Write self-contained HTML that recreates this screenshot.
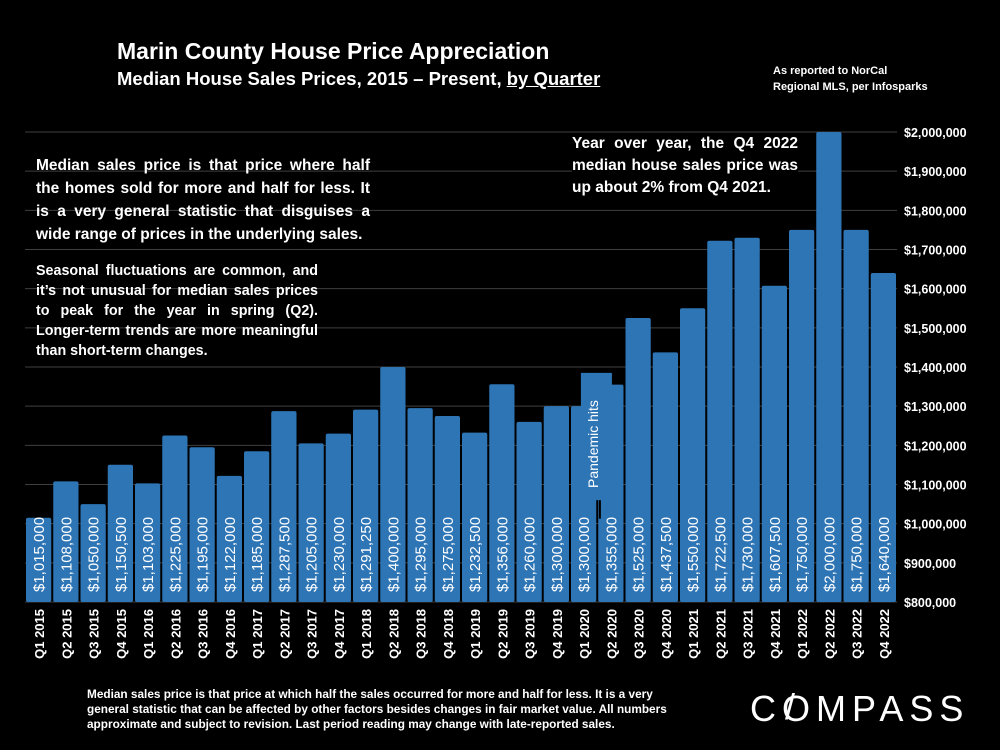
<!DOCTYPE html>
<html><head><meta charset="utf-8"><style>
body{margin:0;background:#000;width:1000px;height:750px;overflow:hidden;font-family:"Liberation Sans",sans-serif;color:#fff}
.t{position:absolute;font-weight:bold;color:#fff}
.j{text-align:justify;text-align-last:left}
</style></head><body>
<div class="t" style="left:117px;top:38px;font-size:23px">Marin County House Price Appreciation</div>
<div class="t" style="left:117px;top:68px;font-size:18.5px">Median House Sales Prices, 2015 – Present, <u>by Quarter</u></div>
<div class="t" style="left:773px;top:63px;font-size:11px;line-height:16px">As reported to NorCal<br>Regional MLS, per Infosparks</div>
<svg id="chart" width="1000" height="750" style="position:absolute;left:0;top:0"></svg>
<div class="t j" style="left:36px;top:154px;width:334px;font-size:15.5px;line-height:23px">Median sales price is that price where half the homes sold for more and half for less. It is a very general statistic that disguises a wide range of prices in the underlying sales.</div>
<div class="t j" style="left:36px;top:261px;width:282px;font-size:14.3px;line-height:20px">Seasonal fluctuations are common, and it’s not unusual for median sales prices to peak for the year in spring (Q2). Longer-term trends are more meaningful than short-term changes.</div>
<div class="t j" style="left:572px;top:133px;width:226px;font-size:15.5px;line-height:22px;background:#000">Year over year, the Q4 2022 median house sales price was up about 2% from Q4 2021.</div>
<div class="t" style="left:87px;top:687px;width:590px;font-size:11.8px;line-height:15px">Median sales price is that price at which half the sales occurred for more and half for less. It is a very general statistic that can be affected by other factors besides changes in fair market value. All numbers approximate and subject to revision. Last period reading may change with late-reported sales.</div>
<div class="t" style="left:750px;top:688px;font-size:36px;font-weight:normal;letter-spacing:6px">C<span style="position:relative">O<span style="position:absolute;left:3px;top:-2px;font-size:36px">/</span></span>MPASS</div>
<script>
const categories=["Q1 2015","Q2 2015","Q3 2015","Q4 2015","Q1 2016","Q2 2016","Q3 2016","Q4 2016","Q1 2017","Q2 2017","Q3 2017","Q4 2017","Q1 2018","Q2 2018","Q3 2018","Q4 2018","Q1 2019","Q2 2019","Q3 2019","Q4 2019","Q1 2020","Q2 2020","Q3 2020","Q4 2020","Q1 2021","Q2 2021","Q3 2021","Q4 2021","Q1 2022","Q2 2022","Q3 2022","Q4 2022"];
const values=[1015000,1108000,1050000,1150500,1103000,1225000,1195000,1122000,1185000,1287500,1205000,1230000,1291250,1400000,1295000,1275000,1232500,1356000,1260000,1300000,1300000,1355000,1525000,1437500,1550000,1722500,1730000,1607500,1750000,2000000,1750000,1640000];
const ticks=[800000,900000,1000000,1100000,1200000,1300000,1400000,1500000,1600000,1700000,1800000,1900000,2000000];
const svg=document.getElementById('chart');const NS='http://www.w3.org/2000/svg';
const y0=602,y1=132,vmin=800000,vmax=2000000,x0=25,x1=897;
const yS=v=>y0-(v-vmin)/(vmax-vmin)*(y0-y1);
const slot=(x1-x0)/categories.length;
const xS=i=>x0+i*slot;
function mk(t,a){const e=document.createElementNS(NS,t);for(const k in a)e.setAttribute(k,a[k]);svg.appendChild(e);return e;}
const fmt=v=>'$'+v.toLocaleString('en-US');
ticks.forEach(t=>{
 const l=mk('line',{x1:x0,x2:x1,y1:yS(t),y2:yS(t),stroke:'#3f3f3f','stroke-width':1});
 
 
 const tx=mk('text',{x:904,y:yS(t)+5,fill:'#fff','font-size':12.5,'font-weight':'bold','font-family':'Liberation Sans'});
 tx.textContent=fmt(t);
 
 
});
values.forEach((v,i)=>{
 const x=xS(i)+1,w=slot-2;
 const r=mk('rect',{x:x,y:yS(v),width:w,height:y0-yS(v),fill:'#2E75B6',rx:2});
 
 
});
const pi=categories.indexOf("Q1 2020");
const px=xS(pi)+slot*0.4;
const pb=mk('rect',{x:px,y:yS(1385000),width:31,height:yS(1060000)-yS(1385000),fill:'#2E75B6'});


const pt=mk('text',{x:0,y:0,fill:'#fff','font-size':14,'font-family':'Liberation Sans',transform:`translate(${px+17},488) rotate(-90)`});
pt.textContent='Pandemic hits';


const pl=mk('line',{x1:px+19,x2:px+19,y1:yS(1060000),y2:yS(1000000)-5,stroke:'#000','stroke-width':2});


values.forEach((v,i)=>{
 const x=xS(i)+1,w=slot-2;
 const cx=x+w/2+5.5;
 const vl=mk('text',{x:0,y:0,fill:'#fff','font-size':15,'font-family':'Liberation Sans',transform:`translate(${cx},592) rotate(-90)`});
 vl.textContent=fmt(v);
 
 
 const cl=mk('text',{x:0,y:0,fill:'#fff','font-size':13,'font-weight':'bold','font-family':'Liberation Sans','text-anchor':'end',transform:`translate(${cx},609) rotate(-90)`});
 cl.textContent=categories[i];
 
 
});
</script>
</body></html>
